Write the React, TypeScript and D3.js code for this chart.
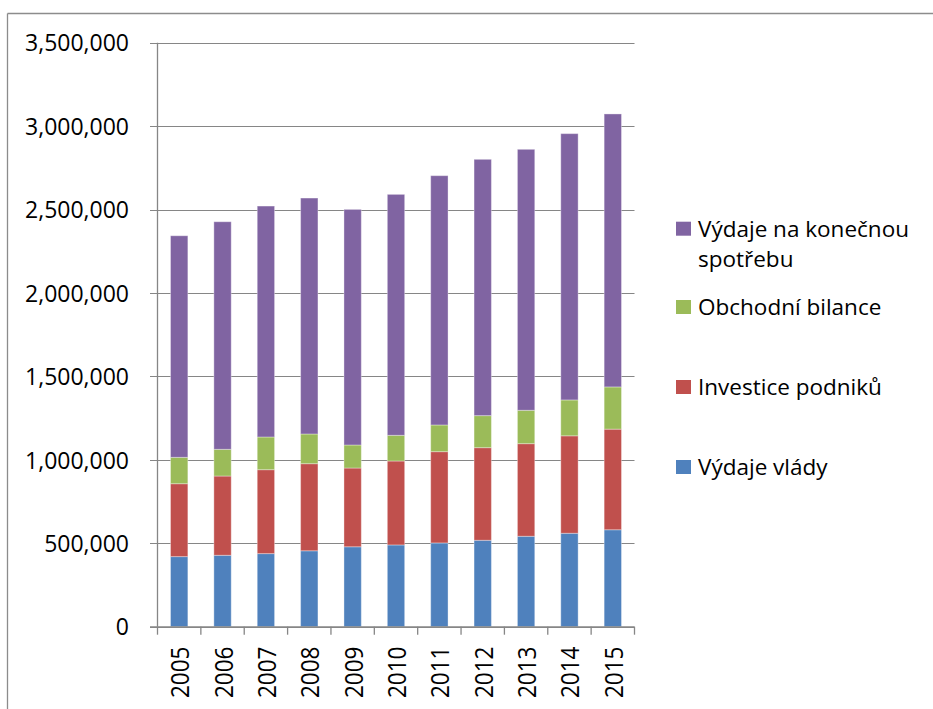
import React from "react";
import * as d3 from "d3";

const years = ["2005","2006","2007","2008","2009","2010","2011","2012","2013","2014","2015"];
const vydajeVlady = [420000, 428000, 438000, 455000, 479000, 490000, 502000, 518000, 542000, 560000, 581000];
const investicePodniku = [437000, 475000, 503000, 522000, 472000, 503000, 547000, 555000, 555000, 584000, 603000];
const obchodniBilance = [158000, 160000, 196000, 178000, 138000, 154000, 160000, 192000, 200000, 215000, 253000];
const vydajeSpotreba = [1328000, 1364000, 1384000, 1414000, 1412000, 1444000, 1494000, 1536000, 1564000, 1596000, 1636000];
const yTicks = [0, 500000, 1000000, 1500000, 2000000, 2500000, 3000000, 3500000];

const seriesKeys = ["vlady", "investice", "bilance", "spotreba"];
const seriesNames: Record<string, string[]> = {
  vlady: ["Výdaje vlády"],
  investice: ["Investice podniků"],
  bilance: ["Obchodní bilance"],
  spotreba: ["Výdaje na konečnou", "spotřebu"],
};
const colors: Record<string, string> = {
  vlady: "#4F81BD",
  investice: "#C0504D",
  bilance: "#9BBB59",
  spotreba: "#8064A2",
};

const rows = years.map((y, i) => ({
  year: y,
  vlady: vydajeVlady[i],
  investice: investicePodniku[i],
  bilance: obchodniBilance[i],
  spotreba: vydajeSpotreba[i],
}));

const FONT = "'Open Sans', sans-serif";
const FS = 23;

export default function App() {
  const left = 157.5, right = 634.5, top = 42.7, bottom = 626.7;
  const x = d3.scaleBand<string>().domain(years).range([left, right]).paddingInner(0.6).paddingOuter(0.3);
  const y = d3.scaleLinear().domain([0, 3500000]).range([bottom, top]);
  const stack = d3.stack<any>().keys(seriesKeys);
  const stacked = stack(rows);
  const step = x.step();
  const fmt = d3.format(",");
  const axisColor = "#868686";

  const legendOrder = ["spotreba", "bilance", "investice", "vlady"];
  const legendBaselines = [236.7, 315, 395, 475];

  return (
    <svg width={933} height={709} style={{ position: "absolute", left: 0, top: 0, background: "#fff" }}>
      <rect x={0} y={0} width={933} height={709} fill="#fff" />
      {/* chart frame */}
      <line x1={7.5} y1={13.5} x2={933} y2={13.5} stroke="#8c8c8c" strokeWidth={1.3} />
      <line x1={7.5} y1={13.5} x2={7.5} y2={709} stroke="#8c8c8c" strokeWidth={1.3} />

      {/* gridlines and y ticks */}
      {yTicks.map((t) => (
        <g key={t}>
          <line x1={150} x2={right} y1={Math.round(y(t)) + 0.5} y2={Math.round(y(t)) + 0.5} stroke={axisColor} strokeWidth={1.2} />
          <text x={129} y={y(t) + 8.7} textAnchor="end" fontFamily={FONT} fontSize={FS} fill="#000">{fmt(t)}</text>
        </g>
      ))}

      {/* bars */}
      {stacked.map((s) => (
        <g key={s.key} fill={colors[s.key]}>
          {s.map((d, i) => (
            <rect
              key={i}
              x={x(years[i])!}
              y={y(d[1])}
              width={x.bandwidth()}
              height={y(d[0]) - y(d[1])}
              stroke="rgba(255,255,255,0.35)"
              strokeWidth={1}
            />
          ))}
        </g>
      ))}

      {/* axes */}
      <line x1={left} x2={left} y1={top} y2={bottom} stroke={axisColor} strokeWidth={1.3} />
      <line x1={150} x2={right} y1={bottom + 0.3} y2={bottom + 0.3} stroke={axisColor} strokeWidth={1.3} />
      {d3.range(years.length + 1).map((i) => (
        <line key={i} x1={left + i * step} x2={left + i * step} y1={bottom} y2={bottom + 8} stroke={axisColor} strokeWidth={1.3} />
      ))}
      {years.map((yr) => {
        const cx = x(yr)! + x.bandwidth() / 2 + 10;
        const cy = 646.5;
        return (
          <text key={yr} x={0} y={0} transform={`translate(${cx}, ${cy}) rotate(-90) scale(0.98, 1.12)`} textAnchor="end" fontFamily={FONT} fontSize={FS} fill="#000">{yr}</text>
        );
      })}

      {/* legend */}
      {legendOrder.map((k, i) => {
        const b = legendBaselines[i];
        return (
          <g key={k}>
            <rect x={676} y={b - 15} width={15} height={14} fill={colors[k]} />
            {seriesNames[k].map((line, j) => (
              <text key={j} x={698} y={b + j * 30} fontFamily={FONT} fontSize={FS - 0.5} fill="#000">{line}</text>
            ))}
          </g>
        );
      })}
    </svg>
  );
}
